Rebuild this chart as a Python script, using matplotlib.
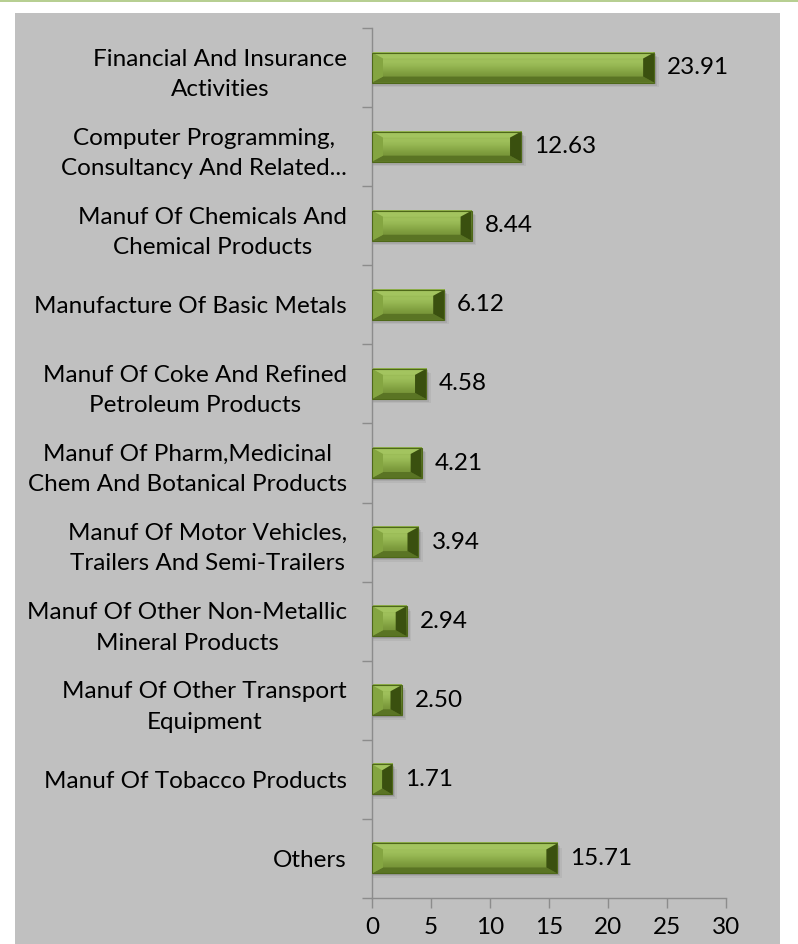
import matplotlib.pyplot as plt
import matplotlib.patches as mpatches
from matplotlib.colors import LinearSegmentedColormap
import numpy as np

sectors = [
    "Financial And Insurance\nActivities",
    "Computer Programming,\nConsultancy And Related...",
    "Manuf Of Chemicals And\nChemical Products",
    "Manufacture Of Basic Metals",
    "Manuf Of Coke And Refined\nPetroleum Products",
    "Manuf Of Pharm,Medicinal\nChem And Botanical Products",
    "Manuf Of Motor Vehicles,\nTrailers And Semi-Trailers",
    "Manuf Of Other Non-Metallic\nMineral Products",
    "Manuf Of Other Transport\nEquipment",
    "Manuf Of Tobacco Products",
    "Others",
]
shares = [23.91, 12.63, 8.44, 6.12, 4.58, 4.21, 3.94, 2.94, 2.50, 1.71, 15.71]
xticks = [0, 5, 10, 15, 20, 25, 30]

plt.rcParams['font.family'] = ['Lato', 'DejaVu Sans']
FS = 17.5

fig = plt.figure(figsize=(7.98, 9.44), dpi=100, facecolor='white')

# grey panel and thin green rule at the top
fig.patches.append(mpatches.Rectangle((15 / 798, 0), 765 / 798, 931 / 944,
                                      transform=fig.transFigure,
                                      facecolor='#c0c0c0', edgecolor='none', zorder=-5))
fig.patches.append(mpatches.Rectangle((0, 942 / 944), 1, 2 / 944,
                                      transform=fig.transFigure,
                                      facecolor='#b7cf92', edgecolor='none', zorder=-5))

ax = fig.add_axes([372 / 798, 46 / 944, 354 / 798, 870 / 944])
ax.set_facecolor('none')

n = len(sectors)
ypos = np.arange(n)
bar_h = 0.38

# pixel -> data conversion for bevel sizes
x_per_px = 30 / 354.0
y_per_px = n / 870.0
bx = 11 * x_per_px
by = 6 * y_per_px

face_cmap = LinearSegmentedColormap.from_list(
    'face', [(0.0, '#8cad48'), (0.3, '#a0c15c'), (0.45, '#95b652'),
             (0.7, '#7e9d3e'), (1.0, '#6c8830')])
grad = np.linspace(0, 1, 64).reshape(-1, 1)

for y, v in zip(ypos, shares):
    top = y - bar_h / 2
    bot = y + bar_h / 2
    # soft drop shadow
    for k, a in enumerate([0.10, 0.07, 0.05]):
        off = (k + 1) * 1.5
        ax.add_patch(mpatches.Rectangle((0, top + off * y_per_px), v + off * x_per_px, bar_h,
                                        facecolor='black', alpha=a, edgecolor='none', zorder=1))
    ax.imshow(grad, cmap=face_cmap, aspect='auto', extent=(0, v, bot, top),
              interpolation='bicubic', zorder=2)
    dx = min(bx, v / 2)
    # bevels: top, bottom, left, right
    ax.add_patch(mpatches.Polygon([(0, top), (v, top), (v - dx, top + by), (dx, top + by)],
                                  facecolor='#a3c45f', edgecolor='none', zorder=3))
    ax.add_patch(mpatches.Polygon([(0, bot), (v, bot), (v - dx, bot - by), (dx, bot - by)],
                                  facecolor='#5a7424', edgecolor='none', zorder=3))
    ax.add_patch(mpatches.Polygon([(0, top), (dx, top + by), (dx, bot - by), (0, bot)],
                                  facecolor='#84a541', edgecolor='none', zorder=3))
    ax.add_patch(mpatches.Polygon([(v, top), (v - dx, top + by), (v - dx, bot - by), (v, bot)],
                                  facecolor='#3a500f', edgecolor='none', zorder=3))
    ax.add_patch(mpatches.Rectangle((0, top), v, bar_h, facecolor='none',
                                    edgecolor='#4e6819', linewidth=0.8, zorder=4))
    ax.text(v + 13 * x_per_px, y, f"{v:.2f}", va='center', ha='left',
            fontsize=FS, color='black', zorder=5)

ax.set_xlim(0, 30)
ax.set_ylim(n - 0.5, -0.5)
ax.set_xticks(xticks)
ax.set_xticklabels([str(t) for t in xticks], fontsize=FS)
ax.set_yticks(ypos)
ax.set_yticklabels(sectors, fontsize=FS, multialignment='center', linespacing=1.55)
ax.set_yticks(np.arange(n + 1) - 0.5, minor=True)

ax.tick_params(axis='y', which='major', length=0, pad=18)
ax.tick_params(axis='y', which='minor', length=7, color='#8c8c8c', width=1)
ax.tick_params(axis='x', length=7, color='#8c8c8c', width=1, pad=7)

for s in ['top', 'right']:
    ax.spines[s].set_visible(False)
for s in ['left', 'bottom']:
    ax.spines[s].set_color('#8c8c8c')
    ax.spines[s].set_linewidth(1)

fig.savefig('out.png', dpi=100, facecolor='white')
